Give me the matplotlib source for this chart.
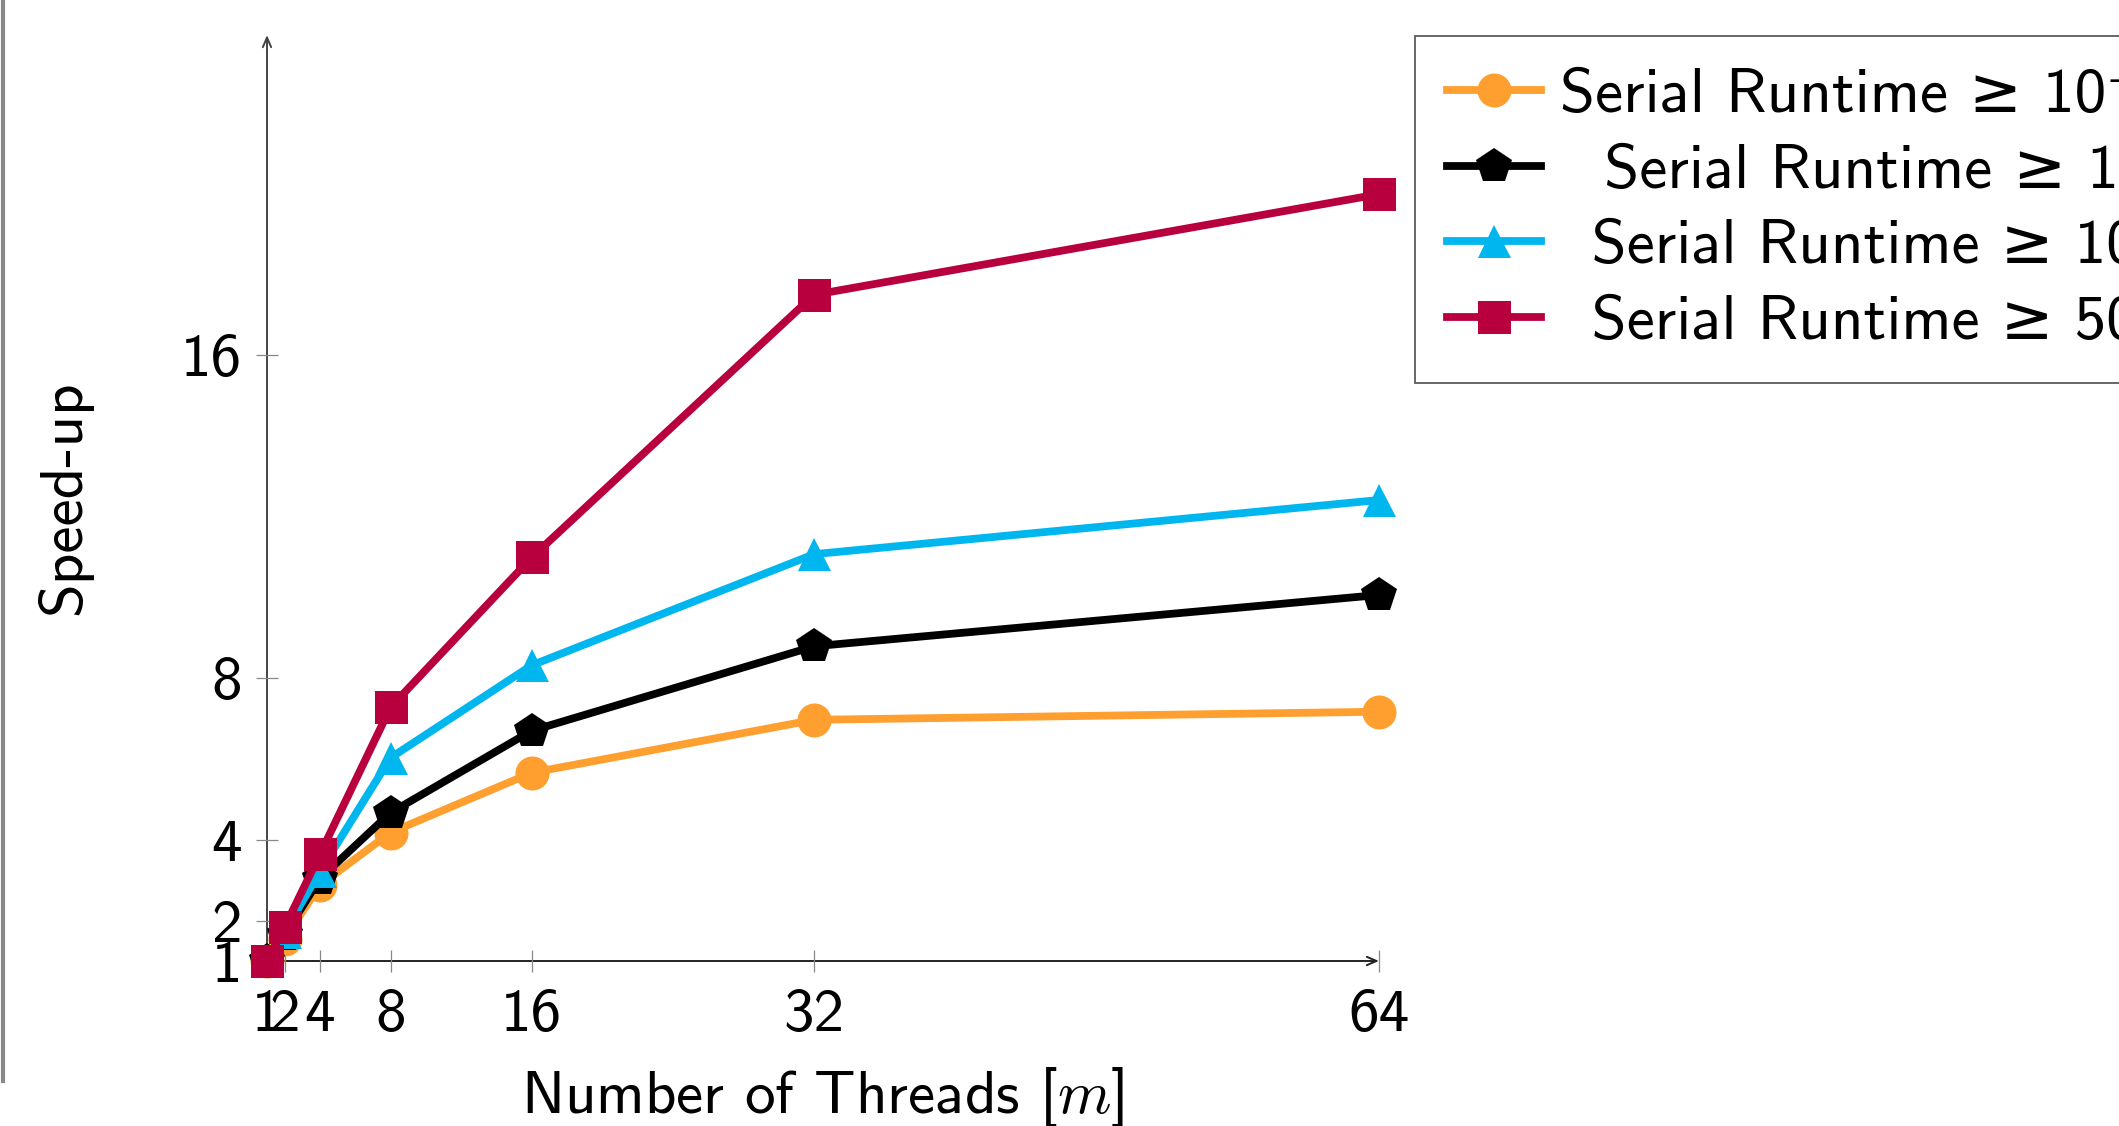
import matplotlib
matplotlib.use("Agg")
import matplotlib.pyplot as plt
from matplotlib.lines import Line2D

# Configuration Matplotlib (police sans-serif type LaTeX)
plt.rcParams['font.family'] = ['cmss10', 'DejaVu Sans']
plt.rcParams['mathtext.fontset'] = 'cm'
plt.rcParams['axes.unicode_minus'] = False

# Données
threads = [1, 2, 4, 8, 16, 32, 64]
speedup_01 = [1.0, 1.55, 2.88, 4.18, 5.66, 6.97, 7.17]
speedup_1 = [1.0, 1.65, 3.04, 4.67, 6.70, 8.79, 10.06]
speedup_10 = [1.0, 1.72, 3.22, 6.03, 8.32, 11.07, 12.41]
speedup_50 = [1.0, 1.84, 3.64, 7.28, 10.99, 17.49, 19.98]

# espaces en tête : légende centrée comme dans pgfplots
labels = [
    "Serial Runtime \u2265 10\u207b\u00b9",
    "\u2002\u2009Serial Runtime \u2265 1",
    "\u2002Serial Runtime \u2265 10",
    "\u2002Serial Runtime \u2265 50",
]
x_ticks = [1, 2, 4, 8, 16, 32, 64]
y_ticks = [1, 2, 4, 8, 16]

FS = 44
W, H = 2119, 1126
fig = plt.figure(figsize=(W / 100, H / 100), dpi=100)
ax = fig.add_axes([267 / W, 1 - 961 / H, (1379 - 267) / W, (961 - 35) / H])

series = [
    (speedup_01, '#FF9F2F', 'o', 34),
    (speedup_1, 'black', 'p', 37),
    (speedup_10, '#00B6EE', '^', 33),
    (speedup_50, '#B9003F', 's', 33),
]
for (vals, color, marker, ms), lab in zip(series, labels):
    ax.plot(threads, vals, color=color, lw=5.6, marker=marker,
            markersize=ms * 0.72, markeredgewidth=0, label=lab, clip_on=False)

ax.set_xlim(1, 64)
ax.set_ylim(1, 23.92)

# Axes avec flèches
for s in ax.spines.values():
    s.set_visible(False)
ax.annotate('', xy=(1, 0), xytext=(0, 0), xycoords='axes fraction',
            arrowprops=dict(arrowstyle='->, head_length=0.7, head_width=0.3',
                            lw=1.4, color='#222222', shrinkA=0, shrinkB=0),
            zorder=0)
ax.annotate('', xy=(0, 1), xytext=(0, 0), xycoords='axes fraction',
            arrowprops=dict(arrowstyle='->, head_length=0.7, head_width=0.3',
                            lw=1.4, color='#444444', shrinkA=0, shrinkB=0),
            zorder=0)

ax.set_xticks(x_ticks)
ax.set_yticks(y_ticks)
ax.tick_params(direction='inout', length=16, width=0.9, color='#888888',
               labelsize=FS, labelcolor='black')
ax.tick_params(axis='x', pad=12)
ax.tick_params(axis='y', pad=10)

ax.set_xlabel(r"Number of Threads [$m$]", fontsize=FS)
ax.set_ylabel("Speed-up", fontsize=FS)
ax.xaxis.set_label_coords(0.5, -0.112)
ax.yaxis.set_label_coords(-0.157, 0.5)

# Légende (coupée par le bord droit comme l'original)
leg = fig.legend(loc='upper left', bbox_to_anchor=(1415 / W, 1 - 36 / H),
                 fontsize=45.5, frameon=True, fancybox=False, borderaxespad=0,
                 handlelength=1.5, handletextpad=0.3, labelspacing=0.31,
                 borderpad=0.5)
leg.get_frame().set_edgecolor('#333333')
leg.get_frame().set_linewidth(1.3)

# Trait gris du bord de page
fig.add_artist(Line2D([3 / W, 3 / W], [1 - 1081 / H, 1], color='#888888', lw=3))

fig.savefig('out.png', dpi=100)
